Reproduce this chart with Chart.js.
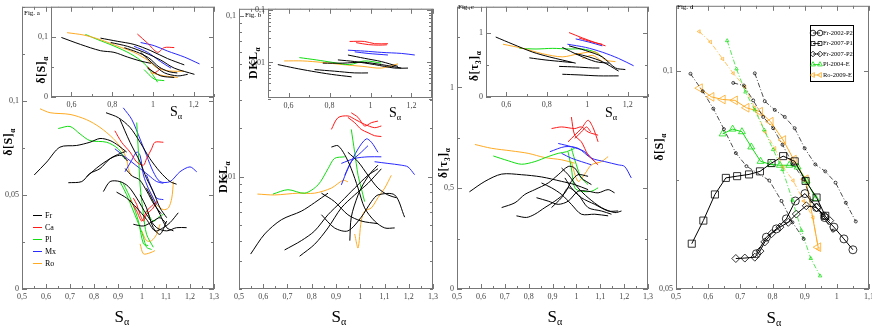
<!DOCTYPE html>
<html>
<head>
<meta charset="utf-8">
<script src="https://cdn.jsdelivr.net/npm/chart.js@4.4.0/dist/chart.umd.min.js"></script>
<style>
body{margin:0;background:#fff;width:872px;height:327px;position:relative;overflow:hidden;font-family:"Liberation Serif",serif;}
canvas{position:absolute;}
.t{position:absolute;white-space:nowrap;color:#000;transform:translate(-50%,-50%);line-height:1;}
.rot{transform:translate(-50%,-50%) rotate(-90deg);font-weight:bold;font-size:12px;letter-spacing:0.5px;}
.fig{position:absolute;font-size:7px;color:#000;line-height:1;}
sub{font-size:0.6em;vertical-align:-0.35em;line-height:0;}
</style>
</head>
<body>
<script>
// tick values
const xMain = [0.5,0.6,0.7,0.8,0.9,1,1.1,1.2,1.3];
const xMainMinor = [0.55,0.65,0.75,0.85,0.95,1.05,1.15,1.25];
const xInset = [0.6,0.8,1,1.2];
const xInsetMinor = [0.5,0.7,0.9,1.1,1.3];
const ySMain = [0,0.05,0.1];
const ySMainMinor = [0.025,0.075,0.125,0.15];
const ySInset = [0,0.1];
const ySInsetMinor = [0.05];
const yDkl = [0.01,0.1];
const yDklMinor = [0.002,0.003,0.004,0.005,0.006,0.007,0.008,0.009,0.02,0.03,0.04,0.05,0.06,0.07,0.08,0.09];
const yTauMain = [0,0.5,1];
const yTauMainMinor = [0.25,0.75,1.25];
const yTauInset = [0,1];
const yTauInsetMinor = [0.5];
const xD = [0.5,0.6,0.7,0.8,0.9,1,1.1];
const xDMinor = [0.55,0.65,0.75,0.85,0.95,1.05];
const yD = [0.05,0.1];
const yDMinor = [0.075];

// Fig a : delta[S] main
const aFr1 = [[0.551,0.0606],[0.603,0.0675],[0.658,0.0754],[0.728,0.0763],[0.783,0.078],[0.825,0.080],[0.867,0.0789],[0.901,0.0763],[0.936,0.0728]];
const aFr2 = [[0.693,0.0565],[0.749,0.0571],[0.783,0.0614],[0.825,0.064],[0.867,0.0693],[0.908,0.072],[0.93,0.073]];
const aFr3 = [[0.769,0.0597],[0.825,0.0657],[0.88,0.0701],[0.915,0.071],[0.94,0.068]];
const aFr4 = [[0.85,0.0937],[0.901,0.0911],[0.95,0.0859],[0.992,0.078],[1.033,0.0693],[1.075,0.0623],[1.117,0.0571],[1.144,0.0557]];
const aFr5 = [[0.908,0.0902],[0.95,0.078],[0.992,0.0675],[1.019,0.0588],[1.047,0.0518],[1.075,0.0431],[1.103,0.0379]];
const aFr6 = [[0.839,0.0518],[0.867,0.0571],[0.908,0.0571],[0.943,0.0545],[0.978,0.0483],[1.019,0.0396],[1.061,0.0326],[1.103,0.0309],[1.144,0.0326],[1.186,0.0326]];
const aFr7 = [[0.894,0.0515],[0.936,0.0483],[0.978,0.0431],[1.019,0.037],[1.054,0.0309],[1.089,0.0326],[1.117,0.0353],[1.151,0.0405]];
const aFr8 = [[0.964,0.0344],[1.006,0.0335],[1.047,0.0361],[1.075,0.0379],[1.1,0.035]];
const aFr9 = [[0.992,0.0501],[1.019,0.0431],[1.047,0.0326],[1.075,0.0291],[1.103,0.0361]];
const aFr10 = [[1.019,0.0536],[1.047,0.0466],[1.075,0.0396],[1.103,0.0326],[1.131,0.0309]];
const aFr11 = [[0.93,0.064],[0.96,0.060],[0.99,0.058],[1.02,0.052],[1.05,0.045],[1.08,0.040]];
const aCa1 = [[0.887,0.0841],[0.915,0.078],[0.95,0.0728],[0.978,0.0675],[1.006,0.0658],[1.019,0.0693],[1.04,0.0745],[1.054,0.078],[1.089,0.078]];
const aCa2 = [[0.964,0.0483],[0.978,0.0449],[0.992,0.0396],[1.006,0.0361],[1.019,0.0396],[1.047,0.0431],[1.061,0.0466]];
const aCa3 = [[0.95,0.0475],[0.978,0.0414],[0.999,0.0361],[1.019,0.0414],[1.047,0.0449]];
const aPl1 = [[0.651,0.0853],[0.70,0.0864],[0.742,0.0824],[0.783,0.0789],[0.853,0.078],[0.901,0.0745],[0.929,0.069]];
const aPl2 = [[0.908,0.0571],[0.936,0.0501],[0.964,0.0414],[0.992,0.0326],[1.006,0.0274],[1.019,0.0222],[1.04,0.021]];
const aPl3 = [[0.978,0.0885],[0.985,0.0728],[0.992,0.0553],[1.006,0.0396],[1.019,0.0291],[1.047,0.0222]];
const aPl4 = [[1.019,0.0414],[1.047,0.0361],[1.075,0.0388],[1.089,0.0396]];
const aPl5 = [[0.922,0.0562],[0.957,0.0466],[0.985,0.0361],[1.006,0.024],[1.026,0.0231]];
const aMx1 = [[0.922,0.0963],[0.957,0.0902],[0.992,0.0797],[1.019,0.071],[1.047,0.0623],[1.075,0.0571],[1.117,0.0571],[1.158,0.0623],[1.2,0.0649],[1.228,0.0623]];
const aMx2 = [[0.887,0.0745],[0.922,0.071],[0.957,0.0675],[0.992,0.064],[1.026,0.0606],[1.061,0.0571],[1.089,0.0562]];
const aMx3 = [[0.929,0.0623],[0.957,0.0684],[0.978,0.0728],[0.992,0.071],[1.006,0.0606],[1.026,0.0536],[1.047,0.0483],[1.061,0.0449]];
const aMx4 = [[1.019,0.0606],[1.04,0.0536],[1.061,0.0483],[1.089,0.0475]];
const aRo1 = [[0.575,0.0958],[0.617,0.0937],[0.70,0.0928],[0.769,0.090],[0.825,0.0859],[0.88,0.080],[0.915,0.0745],[0.936,0.069],[0.943,0.064],[0.955,0.06]];
const aRo2 = [[1.033,0.0518],[1.061,0.0449],[1.089,0.0422],[1.11,0.0431],[1.124,0.0483],[1.131,0.0571]];
const aRo3 = [[0.999,0.0309],[1.019,0.0257],[1.04,0.0257],[1.061,0.0291],[1.075,0.0344]];
const aRo4 = [[0.992,0.024],[1.006,0.0187],[1.033,0.0192],[1.054,0.0204]];

// Fig a : inset
const iaFr1 = [[0.551,0.099],[0.645,0.0874],[0.743,0.077],[0.809,0.0743],[0.875,0.0665],[0.94,0.0597],[0.99,0.056]];
const iaFr2 = [[0.743,0.0979],[0.825,0.0927],[0.908,0.0874],[0.99,0.077],[1.072,0.0639],[1.154,0.0534]];
const iaFr3 = [[0.793,0.0906],[0.875,0.0843],[0.957,0.0743],[1.039,0.0613],[1.105,0.048],[1.204,0.0377]];
const iaFr4 = [[0.94,0.0743],[1.007,0.0534],[1.056,0.0403],[1.122,0.0351],[1.171,0.0377]];
const iaFr5 = [[0.974,0.048],[1.039,0.0351],[1.105,0.0325]];
const iaFr6 = [[0.86,0.082],[0.92,0.075],[0.98,0.065],[1.03,0.05],[1.08,0.042],[1.12,0.04]];
const iaRo1 = [[0.579,0.107],[0.661,0.103],[0.743,0.0953],[0.825,0.0848],[0.908,0.0743],[0.974,0.0613],[1.023,0.048],[1.089,0.043],[1.154,0.043]];
const iaRo2 = [[0.99,0.0403],[1.056,0.0351],[1.122,0.0325]];
const iaPl1 = [[0.669,0.104],[0.727,0.0958],[0.809,0.0848],[0.891,0.0717],[0.957,0.056],[0.998,0.0377],[1.023,0.0246]];
const iaPl2 = [[0.957,0.0455],[1.007,0.0298],[1.056,0.0272]];
const iaCa1 = [[0.924,0.1047],[0.974,0.0895],[1.023,0.0743],[1.056,0.0822],[1.105,0.0822]];
const iaCa2 = [[0.974,0.0507],[1.007,0.0403],[1.039,0.048]];
const iaMx1 = [[0.94,0.0906],[1.007,0.0853],[1.072,0.0764],[1.154,0.0665],[1.229,0.055]];
const iaMx2 = [[0.908,0.0843],[0.974,0.0743],[1.039,0.0586],[1.089,0.048]];

// Fig b : DKL main
const bCa1 = [[0.881,0.0197],[0.908,0.0233],[0.949,0.0239],[0.977,0.0228],[1.018,0.0212],[1.059,0.0202],[1.087,0.0207]];
const bCa2 = [[0.949,0.0234],[0.977,0.0217],[1.004,0.0197],[1.032,0.0188],[1.059,0.018],[1.087,0.0178]];
const bCa3 = [[0.963,0.025],[0.991,0.0234],[1.018,0.0207],[1.046,0.0217],[1.073,0.0222]];
const bMx1 = [[0.922,0.0089],[0.949,0.0112],[0.991,0.0149],[1.025,0.0172],[1.046,0.0164],[1.073,0.0142]];
const bMx2 = [[0.922,0.0121],[0.977,0.013],[1.032,0.0133],[1.087,0.0133]];
const bMx3 = [[1.059,0.0124],[1.114,0.0121],[1.169,0.0118],[1.197,0.0115],[1.224,0.0103]];
const bMx4 = [[0.936,0.0102],[0.963,0.0124],[1.004,0.0142],[1.032,0.0156]];
const bPl1 = [[0.64,0.0078],[0.702,0.0083],[0.771,0.0079],[0.826,0.0089],[0.867,0.0112],[0.894,0.013],[0.936,0.0133]];
const bPl2 = [[0.963,0.0197],[0.977,0.0142],[0.991,0.0102],[1.004,0.0085],[1.018,0.007]];
const bRo1 = [[0.576,0.0078],[0.647,0.0077],[0.743,0.0079],[0.812,0.0079],[0.881,0.0085],[0.929,0.0095],[0.949,0.0093]];
const bRo2 = [[0.977,0.0044],[0.991,0.0036],[1.004,0.0053],[1.018,0.0061],[1.046,0.0064],[1.073,0.0074],[1.101,0.0085],[1.128,0.0102]];
const bFr1 = [[0.548,0.0033],[0.606,0.0044],[0.675,0.0054],[0.757,0.0061],[0.812,0.0069],[0.867,0.0079]];
const bFr2 = [[0.688,0.0035],[0.757,0.004],[0.812,0.0046],[0.867,0.0058],[0.922,0.007],[0.977,0.0085],[1.032,0.0102],[1.073,0.0112]];
const bFr3 = [[0.75,0.0032],[0.812,0.0038],[0.867,0.0048],[0.922,0.0064],[0.977,0.0077],[1.032,0.0091],[1.087,0.0112]];
const bFr4 = [[0.881,0.0153],[0.908,0.0156],[0.936,0.0137],[0.963,0.0112],[0.991,0.0085],[1.018,0.0064],[1.059,0.0053],[1.101,0.0048],[1.142,0.0048]];
const bFr5 = [[0.949,0.0142],[0.991,0.0124],[1.032,0.0102],[1.073,0.0085],[1.114,0.0077],[1.149,0.0074]];
const bFr6 = [[0.84,0.0079],[0.894,0.007],[0.949,0.0058],[1.004,0.0053],[1.073,0.0051]];
const bFr7 = [[0.957,0.004],[0.963,0.0056],[0.991,0.0077],[1.018,0.0093],[1.046,0.0107],[1.073,0.0118]];
const bFr8 = [[0.84,0.0058],[0.894,0.0048],[0.949,0.0046],[1.004,0.0056],[1.046,0.007],[1.073,0.0077],[1.142,0.0077],[1.183,0.0056]];

// Fig b : inset
const ibCa1 = [[0.898,0.0253],[0.971,0.0253],[1.02,0.0229],[1.085,0.0229]];
const ibCa2 = [[0.93,0.024],[0.99,0.022],[1.04,0.0215],[1.08,0.0218]];
const ibMx1 = [[0.89,0.0172],[0.971,0.0165],[1.053,0.0156],[1.151,0.0149],[1.216,0.0139]];
const ibMx2 = [[0.923,0.016],[0.988,0.0149],[1.085,0.0139]];
const ibPl1 = [[0.653,0.0124],[0.735,0.0112],[0.817,0.01],[0.898,0.0091],[0.971,0.0107],[1.053,0.0097]];
const ibRo1 = [[0.579,0.0107],[0.669,0.0107],[0.767,0.01],[0.865,0.0091],[0.963,0.0084],[1.053,0.0078],[1.134,0.0094]];
const ibFr1 = [[0.548,0.0091],[0.63,0.0078],[0.712,0.0068],[0.81,0.0059],[0.908,0.0053]];
const ibFr2 = [[0.727,0.0073],[0.825,0.0068],[0.923,0.0063],[0.988,0.0063]];
const ibFr3 = [[0.841,0.0112],[0.923,0.0104],[1.02,0.0091],[1.118,0.0078],[1.183,0.0078]];
const ibFr4 = [[0.89,0.0139],[0.971,0.012],[1.053,0.0104],[1.134,0.0084]];
const ibFr5 = [[0.767,0.0097],[0.865,0.0097],[0.963,0.0101],[1.053,0.0091],[1.151,0.0078]];

// Fig c : delta[tau3] main
const cCa1 = [[0.896,0.796],[0.938,0.804],[0.993,0.796],[1.021,0.804],[1.049,0.779],[1.091,0.763]];
const cCa2 = [[0.965,0.73],[0.993,0.763],[1.021,0.796],[1.049,0.837],[1.07,0.8],[1.091,0.73]];
const cCa3 = [[0.979,0.853],[0.993,0.763],[1.021,0.73],[1.049,0.665],[1.077,0.632],[1.091,0.616]];
const cCa4 = [[0.993,0.747],[1.021,0.779],[1.042,0.804],[1.06,0.78]];
const cMx1 = [[0.889,0.681],[0.952,0.706],[1.007,0.698],[1.063,0.649],[1.119,0.632],[1.175,0.616],[1.202,0.608],[1.23,0.551]];
const cMx2 = [[0.924,0.722],[0.979,0.706],[1.035,0.681],[1.077,0.632]];
const cMx3 = [[0.938,0.673],[0.979,0.649],[1.021,0.632],[1.063,0.616]];
const cRo1 = [[0.575,0.717],[0.645,0.698],[0.729,0.685],[0.798,0.673],[0.868,0.652],[0.938,0.641],[0.993,0.624]];
const cRo2 = [[0.979,0.632],[1.007,0.534],[1.035,0.57],[1.063,0.616],[1.105,0.632],[1.133,0.657]];
const cPl1 = [[0.652,0.66],[0.715,0.636],[0.77,0.619],[0.826,0.632],[0.882,0.657],[0.924,0.673],[0.959,0.681],[0.993,0.698]];
const cPl2 = [[0.965,0.681],[0.979,0.6],[0.993,0.502],[1.021,0.485],[1.063,0.485],[1.091,0.502]];
const cPl3 = [[0.979,0.698],[1.0,0.616],[1.021,0.551],[1.049,0.518]];
const cFr1 = [[0.552,0.482],[0.617,0.534],[0.687,0.57],[0.77,0.567],[0.854,0.556],[0.938,0.534],[0.993,0.518],[1.049,0.493]];
const cFr2 = [[0.687,0.404],[0.743,0.428],[0.784,0.469],[0.826,0.493],[0.882,0.526],[0.924,0.567],[0.966,0.608],[0.993,0.6],[1.021,0.551],[1.063,0.518]];
const cFr3 = [[0.749,0.363],[0.791,0.355],[0.826,0.371],[0.868,0.404],[0.91,0.436],[0.952,0.477],[0.979,0.534],[1.007,0.567],[1.049,0.559]];
const cFr4 = [[0.833,0.453],[0.882,0.436],[0.924,0.42],[0.966,0.436],[1.007,0.485],[1.049,0.485],[1.091,0.477],[1.133,0.493],[1.16,0.477]];
const cFr5 = [[0.854,0.526],[0.896,0.502],[0.938,0.469],[0.979,0.42],[1.021,0.371],[1.077,0.371],[1.133,0.363]];
const cFr6 = [[0.896,0.404],[0.938,0.453],[0.966,0.502],[1.007,0.469],[1.049,0.404],[1.105,0.387],[1.147,0.371]];
const cFr7 = [[0.952,0.551],[0.979,0.502],[1.021,0.453],[1.077,0.42],[1.133,0.387],[1.175,0.387]];
const cFr8 = [[0.938,0.6],[0.966,0.567],[1.007,0.502],[1.049,0.453],[1.105,0.404],[1.161,0.379],[1.189,0.387]];

// Fig c : inset
const icFr1 = [[0.548,0.931],[0.633,0.819],[0.731,0.696],[0.812,0.623],[0.877,0.574],[0.943,0.525]];
const icFr2 = [[0.714,0.608],[0.796,0.574],[0.877,0.549],[0.927,0.534]];
const icFr3 = [[0.861,0.475],[0.943,0.466],[1.025,0.451],[1.06,0.45]];
const icFr4 = [[0.877,0.353],[0.959,0.343],[1.057,0.328],[1.155,0.328]];
const icFr5 = [[0.91,0.794],[0.992,0.721],[1.074,0.623],[1.139,0.451],[1.188,0.426]];
const icFr6 = [[0.943,0.672],[1.008,0.623],[1.074,0.549],[1.155,0.402]];
const icFr7 = [[0.877,0.77],[0.959,0.647],[1.041,0.549],[1.106,0.525]];
const icRo1 = [[0.584,0.819],[0.682,0.755],[0.779,0.672],[0.877,0.623],[0.959,0.672],[1.041,0.696],[1.09,0.574],[1.139,0.549]];
const icRo2 = [[0.976,0.598],[1.025,0.647],[1.074,0.549]];
const icPl1 = [[0.665,0.755],[0.747,0.745],[0.829,0.755],[0.91,0.745],[0.976,0.745],[1.041,0.696],[1.074,0.623]];
const icCa1 = [[0.91,1.0],[0.976,0.917],[1.041,0.843],[1.09,0.794]];
const icCa2 = [[0.959,0.917],[1.025,0.853],[1.074,0.819]];
const icMx1 = [[0.902,0.819],[0.992,0.77],[1.074,0.696],[1.155,0.598],[1.229,0.485]];
const icMx2 = [[0.943,0.902],[1.008,0.853],[1.074,0.794]];

// Fig d
const dFr2002P2 = [[0.75,0.0581],[0.781,0.0619],[0.812,0.0638],[0.843,0.0661],[0.871,0.0702],[0.901,0.0719],[0.937,0.0687],[0.962,0.0664],[0.991,0.0642],[1.022,0.0615],[1.05,0.059]];
const dFr2007P1 = [[0.549,0.0604],[0.585,0.0657],[0.621,0.0717],[0.655,0.0755],[0.69,0.0759],[0.727,0.0763],[0.761,0.077],[0.797,0.0789],[0.833,0.0805],[0.869,0.0793],[0.903,0.0748],[0.937,0.071],[0.964,0.0668]];
const dFr2007P2 = [[0.686,0.0570],[0.714,0.0571],[0.745,0.0573],[0.761,0.0587],[0.776,0.0608],[0.797,0.0627],[0.823,0.0642],[0.849,0.0653],[0.874,0.0672],[0.905,0.0691],[0.937,0.0687],[0.962,0.0668],[0.978,0.0657]];
const dPl2004E = [[0.645,0.0856],[0.676,0.0867],[0.705,0.0861],[0.734,0.0826],[0.763,0.0793],[0.794,0.0786],[0.823,0.0784],[0.852,0.0784],[0.878,0.078],[0.906,0.0748],[0.934,0.0708]];
const dRo2009E = [[0.574,0.0961],[0.61,0.0941],[0.645,0.0935],[0.683,0.0933],[0.719,0.0916],[0.761,0.0907],[0.794,0.0884],[0.833,0.0842],[0.866,0.0797],[0.903,0.0752],[0.942,0.0596]];
const dFrA = [[0.545,0.0994],[0.583,0.0954],[0.616,0.0914],[0.649,0.0867],[0.686,0.0812],[0.719,0.0782],[0.79,0.0749],[0.828,0.0702],[0.862,0.0653],[0.897,0.0615]];
const dFrB = [[0.678,0.0973],[0.711,0.0967],[0.74,0.0933],[0.771,0.0895],[0.802,0.0869],[0.831,0.0831],[0.864,0.0786],[0.897,0.0752],[0.921,0.0702],[0.957,0.0664],[0.988,0.0634]];
const dFrC = [[0.745,0.0995],[0.776,0.0931],[0.807,0.0911],[0.838,0.0895],[0.869,0.0869],[0.9,0.0823],[0.933,0.0786],[0.964,0.077],[0.996,0.0744],[1.028,0.0698],[1.059,0.0655]];
const dPlB = [[0.659,0.107],[0.688,0.1005],[0.716,0.0952],[0.745,0.0911],[0.774,0.0865],[0.802,0.082],[0.831,0.0774],[0.862,0.0704],[0.89,0.0634],[0.919,0.057],[0.948,0.053]];
const dRoB = [[0.572,0.1091],[0.607,0.1067],[0.645,0.1028],[0.678,0.0995],[0.714,0.0964],[0.745,0.0916],[0.777,0.0861],[0.807,0.0823],[0.833,0.078],[0.864,0.0749],[0.897,0.0702],[0.926,0.0664],[0.942,0.0592]];

const legendA = ['Fr','Ca','Pl','Mx','Ro'];
const legendD = ['Fr-2002-P2','Fr-2007-P1','Fr-2007-P2','Pl-2004-E','Ro-2009-E'];

const BLACK = '#000000', RED = '#ff1a1a', GREEN = '#11dd11', BLUE = '#2a2aff', ORANGE = '#ffaa22';
const YW = 24, XH = 22, PT = 4, PR = 12;

function fmt(v){ return String(+v.toFixed(4)).replace('.', ','); }

function line(pts, color, extra){
  return Object.assign({
    data: pts.map(p => ({x: p[0], y: p[1]})),
    borderColor: color, backgroundColor: color, borderWidth: 1,
    pointRadius: 0, showLine: true, tension: 0.3, fill: false
  }, extra || {});
}

function axis(type, pos, min, max, major, minor){
  return {
    type: type, position: pos, min: min, max: max,
    grid: {display: false, drawTicks: false},
    border: {display: false},
    afterBuildTicks: a => { a.ticks = major.concat(minor).sort((p, q) => p - q).map(v => ({value: v})); },
    afterFit: s => { if (pos === 'bottom') s.height = XH; else s.width = YW; },
    ticks: {
      autoSkip: false, maxRotation: 0, padding: 3, color: '#444',
      font: {family: 'Liberation Serif', size: 8},
      callback: v => major.some(m => Math.abs(m - v) < 1e-9) ? fmt(v) : ''
    }
  };
}

// frame, inward ticks, white inset background, legends
const frame = {
  id: 'frame',
  beforeDatasetsDraw(chart, args, o){
    if (!o.white) return;
    const a = chart.chartArea, ctx = chart.ctx;
    ctx.save(); ctx.fillStyle = '#fff'; ctx.fillRect(a.left, a.top, a.width, a.height); ctx.restore();
  },
  afterDatasetsDraw(chart, args, o){
    const a = chart.chartArea, ctx = chart.ctx;
    ctx.save();
    ctx.strokeStyle = '#777'; ctx.lineWidth = 1;
    ctx.strokeRect(a.left + 0.5, a.top + 0.5, a.width - 1, a.height - 1);
    const xs = chart.scales.x, ys = chart.scales.y;
    ctx.beginPath();
    xs.ticks.forEach(t => {
      const p = Math.round(xs.getPixelForValue(t.value)) + 0.5, L = t.label ? 5 : 3;
      ctx.moveTo(p, a.bottom); ctx.lineTo(p, a.bottom - L);
      ctx.moveTo(p, a.top); ctx.lineTo(p, a.top + L);
    });
    ys.ticks.forEach(t => {
      const p = Math.round(ys.getPixelForValue(t.value)) + 0.5, L = t.label ? 5 : 3;
      ctx.moveTo(a.left, p); ctx.lineTo(a.left + L, p);
      ctx.moveTo(a.right, p); ctx.lineTo(a.right - L, p);
    });
    ctx.stroke();
    if (o.legend) o.legend(ctx, o.ox, o.oy);
    ctx.restore();
  }
};

function makeChart(box, xAx, yAx, datasets, white, legend){
  const c = document.createElement('canvas');
  const w = box.r - box.l + YW + PR, h = box.b - box.t + PT + XH;
  const ox = box.l - YW, oy = box.t - PT;
  c.width = w; c.height = h;
  c.style.left = ox + 'px'; c.style.top = oy + 'px';
  document.body.appendChild(c);
  return new Chart(c.getContext('2d'), {
    type: 'scatter',
    data: {datasets: datasets},
    options: {
      responsive: false, animation: false, events: [],
      layout: {padding: {top: PT, right: PR, left: 0, bottom: 0}},
      scales: {x: xAx, y: yAx},
      plugins: {legend: {display: false}, tooltip: {enabled: false},
        frame: {white: !!white, legend: legend, ox: ox, oy: oy}}
    },
    plugins: [frame]
  });
}

// legend of Fig a (figure coordinates)
function drawLegendA(ctx, ox, oy){
  const cols = [BLACK, RED, GREEN, BLUE, ORANGE];
  ctx.font = '8px "Liberation Serif"'; ctx.textBaseline = 'middle';
  legendA.forEach((s, i) => {
    const y = 215 + i * 12 - oy + 0.5;
    ctx.strokeStyle = cols[i]; ctx.lineWidth = 1;
    ctx.beginPath(); ctx.moveTo(33 - ox, y); ctx.lineTo(42 - ox, y); ctx.stroke();
    ctx.fillStyle = '#000'; ctx.fillText(s, 45 - ox, y);
  });
}

// legend of Fig d (figure coordinates)
function drawLegendD(ctx, ox, oy){
  const cols = [BLACK, BLACK, BLACK, GREEN, ORANGE];
  const styles = ['circle', 'rect', 'rectRot', 'triangle', 'triangle'];
  const rots = [0, 0, 0, 0, -90];
  ctx.strokeStyle = '#000'; ctx.lineWidth = 1;
  ctx.strokeRect(810.5 - ox, 25.5 - oy, 43, 56);
  ctx.font = '6.5px "Liberation Serif"'; ctx.textBaseline = 'middle';
  legendD.forEach((s, i) => {
    const y = 33 + i * 10.5 - oy;
    ctx.strokeStyle = cols[i]; ctx.lineWidth = 0.8;
    ctx.beginPath(); ctx.moveTo(813 - ox, y); ctx.lineTo(820 - ox, y); ctx.stroke();
    ctx.fillStyle = 'rgba(0,0,0,0)';
    [813, 820].forEach(x => {
      if (Chart.helpers && Chart.helpers.drawPoint)
        Chart.helpers.drawPoint(ctx, {pointStyle: styles[i], rotation: rots[i], radius: 2.8, borderWidth: 0.8}, x - ox, y);
    });
    ctx.fillStyle = '#000'; ctx.fillText(s, 823 - ox, y);
  });
}

const boxA = {l: 22, t: 3, r: 214, b: 289};
const boxB = {l: 239, t: 5, r: 433, b: 289};
const boxC = {l: 457, t: 3, r: 648, b: 289};
const boxD = {l: 676, t: 2, r: 869, b: 289};
const boxAi = {l: 51, t: 3, r: 214, b: 97};
const boxBi = {l: 268, t: 5, r: 432, b: 98};
const boxCi = {l: 486, t: 3, r: 648, b: 97};

makeChart(boxA, axis('linear', 'bottom', 0.5, 1.3, xMain, xMainMinor), axis('linear', 'left', 0, 0.15, ySMain, ySMainMinor), [
  line(aFr1, BLACK), line(aFr2, BLACK), line(aFr3, BLACK), line(aFr4, BLACK), line(aFr5, BLACK), line(aFr6, BLACK),
  line(aFr7, BLACK), line(aFr8, BLACK), line(aFr9, BLACK), line(aFr10, BLACK), line(aFr11, BLACK),
  line(aCa1, RED), line(aCa2, RED), line(aCa3, RED),
  line(aPl1, GREEN), line(aPl2, GREEN), line(aPl3, GREEN), line(aPl4, GREEN), line(aPl5, GREEN),
  line(aMx1, BLUE), line(aMx2, BLUE), line(aMx3, BLUE), line(aMx4, BLUE),
  line(aRo1, ORANGE), line(aRo2, ORANGE), line(aRo3, ORANGE), line(aRo4, ORANGE)
], false, drawLegendA);

makeChart(boxB, axis('linear', 'bottom', 0.5, 1.3, xMain, xMainMinor), axis('logarithmic', 'left', 0.002, 0.111, yDkl, yDklMinor), [
  line(bFr1, BLACK), line(bFr2, BLACK), line(bFr3, BLACK), line(bFr4, BLACK), line(bFr5, BLACK), line(bFr6, BLACK),
  line(bFr7, BLACK), line(bFr8, BLACK),
  line(bCa1, RED), line(bCa2, RED), line(bCa3, RED),
  line(bMx1, BLUE), line(bMx2, BLUE), line(bMx3, BLUE), line(bMx4, BLUE),
  line(bPl1, GREEN), line(bPl2, GREEN),
  line(bRo1, ORANGE), line(bRo2, ORANGE)
]);

makeChart(boxC, axis('linear', 'bottom', 0.5, 1.3, xMain, xMainMinor), axis('linear', 'left', 0, 1.4, yTauMain, yTauMainMinor), [
  line(cFr1, BLACK), line(cFr2, BLACK), line(cFr3, BLACK), line(cFr4, BLACK), line(cFr5, BLACK), line(cFr6, BLACK),
  line(cFr7, BLACK), line(cFr8, BLACK),
  line(cCa1, RED), line(cCa2, RED), line(cCa3, RED), line(cCa4, RED),
  line(cMx1, BLUE), line(cMx2, BLUE), line(cMx3, BLUE),
  line(cPl1, GREEN), line(cPl2, GREEN), line(cPl3, GREEN),
  line(cRo1, ORANGE), line(cRo2, ORANGE)
]);

const dash = {borderDash: [5, 2, 1, 2], borderWidth: 0.7, tension: 0, pointRadius: 1.5, pointBackgroundColor: 'rgba(0,0,0,0)', pointBorderWidth: 0.7};
const big = {tension: 0, pointRadius: 4, pointBackgroundColor: 'rgba(0,0,0,0)', pointBorderWidth: 0.8};
makeChart(boxD, axis('linear', 'bottom', 0.5, 1.1, xD, xDMinor), axis('linear', 'left', 0.05, 0.115, yD, yDMinor), [
  line(dFrA, BLACK, dash), line(dFrB, BLACK, dash), line(dFrC, BLACK, dash),
  line(dPlB, GREEN, Object.assign({}, dash, {pointStyle: 'triangle', pointRadius: 2})),
  line(dRoB, ORANGE, Object.assign({}, dash, {pointStyle: 'triangle', pointRotation: -90, pointRadius: 2})),
  line(dFr2002P2, BLACK, Object.assign({}, big, {pointStyle: 'circle'})),
  line(dFr2007P1, BLACK, Object.assign({}, big, {pointStyle: 'rect', pointRadius: 5})),
  line(dFr2007P2, BLACK, Object.assign({}, big, {pointStyle: 'rectRot'})),
  line(dPl2004E, GREEN, Object.assign({}, big, {pointStyle: 'triangle'})),
  line(dRo2009E, ORANGE, Object.assign({}, big, {pointStyle: 'triangle', pointRotation: -90, pointRadius: 5}))
], false, drawLegendD);

makeChart(boxAi, axis('linear', 'bottom', 0.5, 1.3, xInset, xInsetMinor), axis('linear', 'left', 0, 0.15, ySInset, ySInsetMinor), [
  line(iaFr1, BLACK), line(iaFr2, BLACK), line(iaFr3, BLACK), line(iaFr4, BLACK), line(iaFr5, BLACK), line(iaFr6, BLACK),
  line(iaRo1, ORANGE), line(iaRo2, ORANGE), line(iaPl1, GREEN), line(iaPl2, GREEN),
  line(iaCa1, RED), line(iaCa2, RED), line(iaMx1, BLUE), line(iaMx2, BLUE)
], true);

makeChart(boxBi, axis('linear', 'bottom', 0.5, 1.3, xInset, xInsetMinor), axis('logarithmic', 'left', 0.00208, 0.107, yDkl, yDklMinor), [
  line(ibFr1, BLACK), line(ibFr2, BLACK), line(ibFr3, BLACK), line(ibFr4, BLACK), line(ibFr5, BLACK),
  line(ibCa1, RED), line(ibCa2, RED), line(ibMx1, BLUE), line(ibMx2, BLUE),
  line(ibPl1, GREEN), line(ibRo1, ORANGE)
], true);

makeChart(boxCi, axis('linear', 'bottom', 0.5, 1.3, xInset, xInsetMinor), axis('linear', 'left', 0, 1.4, yTauInset, yTauInsetMinor), [
  line(icFr1, BLACK), line(icFr2, BLACK), line(icFr3, BLACK), line(icFr4, BLACK), line(icFr5, BLACK), line(icFr6, BLACK), line(icFr7, BLACK),
  line(icRo1, ORANGE), line(icRo2, ORANGE), line(icPl1, GREEN),
  line(icCa1, RED), line(icCa2, RED), line(icMx1, BLUE), line(icMx2, BLUE)
], true);

// axis titles and panel labels
const texts = [
  ['rot', 8, 142, 'δ[S]<sub>α</sub>'], ['rot', 41, 70, 'δ[S]<sub>α</sub>'],
  ['rot', 223, 177, 'DKL<sub>α</sub>'], ['rot', 253, 63, 'DKL<sub>α</sub>'],
  ['rot', 443, 163, 'δ[τ<sub>3</sub>]<sub>α</sub>'], ['rot', 474, 66, 'δ[τ<sub>3</sub>]<sub>α</sub>'],
  ['rot', 659, 147, 'δ[S]<sub>α</sub>'],
  ['x', 122, 316, 'S<sub>α</sub>'], ['x', 339, 316, 'S<sub>α</sub>'], ['x', 555, 316, 'S<sub>α</sub>'], ['x', 774, 317, 'S<sub>α</sub>'],
  ['xi', 176, 112, 'S<sub>α</sub>'], ['xi', 395, 113, 'S<sub>α</sub>'], ['xi', 611, 113, 'S<sub>α</sub>']
];
texts.forEach(t => {
  const d = document.createElement('div');
  d.className = t[0] === 'rot' ? 't rot' : 't';
  if (t[0] === 'x') d.style.fontSize = '17px';
  if (t[0] === 'xi') d.style.fontSize = '14px';
  d.style.left = t[1] + 'px'; d.style.top = t[2] + 'px';
  d.innerHTML = t[3];
  document.body.appendChild(d);
});
[['Fig. a', 24, 10], ['Fig. b', 245, 12], ['Fig. c', 458, 4], ['Fig. d', 677, 4]].forEach(f => {
  const d = document.createElement('div');
  d.className = 'fig'; d.style.left = f[1] + 'px'; d.style.top = f[2] + 'px';
  d.textContent = f[0];
  document.body.appendChild(d);
});
</script>
</body>
</html>
